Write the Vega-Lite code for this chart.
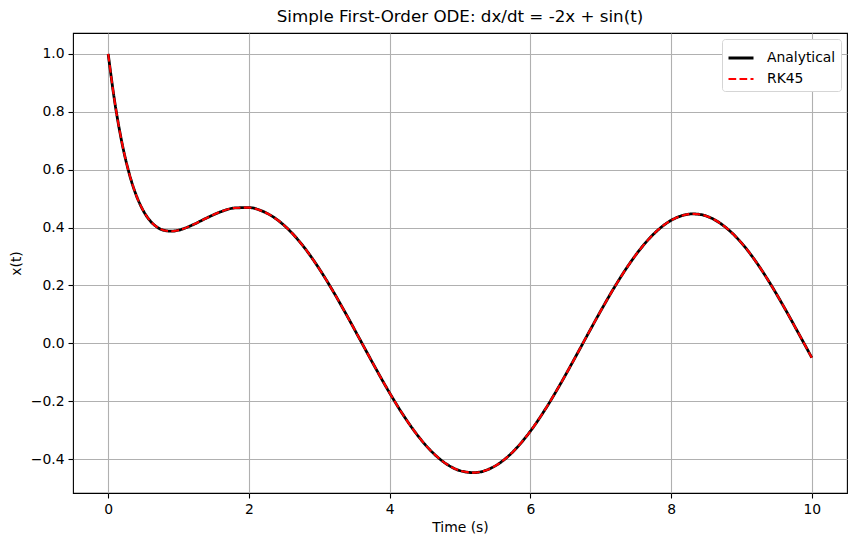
{
  "$schema": "https://vega.github.io/schema/vega-lite/v6.json",
  "width": 774,
  "height": 460,
  "autosize": {"type": "none"},
  "padding": {"left": 73, "top": 33, "right": 10, "bottom": 54},
  "background": "white",
  "title": {"text": "Simple First-Order ODE: dx/dt = -2x + sin(t)", "fontSize": 16.7, "fontWeight": "normal", "font": "DejaVu Sans", "color": "black", "offset": 7},
  "config": {
    "font": "DejaVu Sans",
    "view": {"stroke": "black", "strokeWidth": 1.1},
    "axis": {
      "domain": false,
      "grid": true,
      "gridColor": "#b0b0b0",
      "gridWidth": 1.1,
      "gridOpacity": 1,
      "tickColor": "black",
      "tickSize": 5,
      "tickWidth": 1.1,
      "labelFontSize": 13.9,
      "labelColor": "black",
      "labelPadding": 4,
      "titleFontSize": 13.9,
      "titleFontWeight": "normal",
      "titleColor": "black"
    },
    "legend": {
      "orient": "top-right",
      "offset": 6,
      "title": null,
      "symbolType": "stroke",
      "symbolSize": 625,
      "labelFontSize": 13.9,
      "labelColor": "black",
      "fillColor": "white",
      "strokeColor": "#d5d5d5",
      "cornerRadius": 3,
      "padding": 5,
      "rowPadding": -4,
      "labelOffset": 12
    }
  },
  "data": {"values": [
    {"t": 0.0, "Analytical": 1.0, "RK45": 1.0},
    {"t": 0.1, "Analytical": 0.82341, "RK45": 0.82341},
    {"t": 0.2, "Analytical": 0.68784, "RK45": 0.68784},
    {"t": 0.3, "Analytical": 0.58571, "RK45": 0.58571},
    {"t": 0.4, "Analytical": 0.51076, "RK45": 0.51076},
    {"t": 0.5, "Analytical": 0.45771, "RK45": 0.45771},
    {"t": 0.6, "Analytical": 0.42222, "RK45": 0.42222},
    {"t": 0.7, "Analytical": 0.40064, "RK45": 0.40064},
    {"t": 0.8, "Analytical": 0.38988, "RK45": 0.38988},
    {"t": 0.9, "Analytical": 0.38737, "RK45": 0.38737},
    {"t": 1.0, "Analytical": 0.39094, "RK45": 0.39094},
    {"t": 1.2, "Analytical": 0.40921, "RK45": 0.40921},
    {"t": 1.4, "Analytical": 0.43316, "RK45": 0.43316},
    {"t": 1.6, "Analytical": 0.45458, "RK45": 0.45458},
    {"t": 1.8, "Analytical": 0.46776, "RK45": 0.46776},
    {"t": 2.0, "Analytical": 0.46893, "RK45": 0.46893},
    {"t": 2.2, "Analytical": 0.45584, "RK45": 0.45584},
    {"t": 2.4, "Analytical": 0.42754, "RK45": 0.42754},
    {"t": 2.6, "Analytical": 0.38420, "RK45": 0.38420},
    {"t": 2.8, "Analytical": 0.32688, "RK45": 0.32688},
    {"t": 3.0, "Analytical": 0.25742, "RK45": 0.25742},
    {"t": 3.2, "Analytical": 0.17830, "RK45": 0.17830},
    {"t": 3.4, "Analytical": 0.09248, "RK45": 0.09248},
    {"t": 3.6, "Analytical": 0.00324, "RK45": 0.00324},
    {"t": 3.8, "Analytical": -0.08595, "RK45": -0.08595},
    {"t": 4.0, "Analytical": -0.17159, "RK45": -0.17159},
    {"t": 4.2, "Analytical": -0.25031, "RK45": -0.25031},
    {"t": 4.4, "Analytical": -0.31899, "RK45": -0.31899},
    {"t": 4.6, "Analytical": -0.37493, "RK45": -0.37493},
    {"t": 4.8, "Analytical": -0.41588, "RK45": -0.41588},
    {"t": 5.0, "Analytical": -0.44025, "RK45": -0.44025},
    {"t": 5.2, "Analytical": -0.44704, "RK45": -0.44704},
    {"t": 5.4, "Analytical": -0.43602, "RK45": -0.43602},
    {"t": 5.6, "Analytical": -0.40761, "RK45": -0.40761},
    {"t": 5.8, "Analytical": -0.36294, "RK45": -0.36294},
    {"t": 6.0, "Analytical": -0.30380, "RK45": -0.30380},
    {"t": 6.2, "Analytical": -0.23255, "RK45": -0.23255},
    {"t": 6.4, "Analytical": -0.15202, "RK45": -0.15202},
    {"t": 6.6, "Analytical": -0.06543, "RK45": -0.06543},
    {"t": 6.8, "Analytical": 0.02376, "RK45": 0.02376},
    {"t": 7.0, "Analytical": 0.11202, "RK45": 0.11202},
    {"t": 7.2, "Analytical": 0.19580, "RK45": 0.19580},
    {"t": 7.4, "Analytical": 0.27177, "RK45": 0.27177},
    {"t": 7.6, "Analytical": 0.33692, "RK45": 0.33692},
    {"t": 7.8, "Analytical": 0.38863, "RK45": 0.38863},
    {"t": 8.0, "Analytical": 0.42484, "RK45": 0.42484},
    {"t": 8.2, "Analytical": 0.44412, "RK45": 0.44412},
    {"t": 8.3, "Analytical": 0.44714, "RK45": 0.44714},
    {"t": 8.4, "Analytical": 0.44570, "RK45": 0.44570},
    {"t": 8.6, "Analytical": 0.42928, "RK45": 0.42928},
    {"t": 8.8, "Analytical": 0.39573, "RK45": 0.39573},
    {"t": 9.0, "Analytical": 0.34708, "RK45": 0.34708},
    {"t": 9.2, "Analytical": 0.28413, "RK45": 0.28413},
    {"t": 9.4, "Analytical": 0.20985, "RK45": 0.20985},
    {"t": 9.6, "Analytical": 0.12721, "RK45": 0.12721},
    {"t": 9.8, "Analytical": 0.03950, "RK45": 0.03950},
    {"t": 10.0, "Analytical": -0.04980, "RK45": -0.04980}
  ]},
  "transform": [{"fold": ["Analytical", "RK45"], "as": ["series", "x"]}],
  "encoding": {
    "x": {"field": "t", "type": "quantitative", "title": "Time (s)",
      "scale": {"domain": [-0.5, 10.5], "nice": false, "zero": false},
      "axis": {"values": [0, 2, 4, 6, 8, 10], "format": "d", "titlePadding": 5}},
    "y": {"field": "x", "type": "quantitative", "title": "x(t)",
      "scale": {"domain": [-0.5174, 1.0724], "nice": false, "zero": false},
      "axis": {"values": [-0.4, -0.2, 0, 0.2, 0.4, 0.6, 0.8, 1.0], "format": ".1f", "titlePadding": 7}},
    "color": {"field": "series", "type": "nominal", "scale": {"domain": ["Analytical", "RK45"], "range": ["black", "red"]}, "legend": {"title": null}},
    "strokeDash": {"field": "series", "type": "nominal", "scale": {"domain": ["Analytical", "RK45"], "range": [[1, 0], [7.7, 3.3]]}, "legend": {"title": null}},
    "strokeWidth": {"field": "series", "type": "nominal", "scale": {"domain": ["Analytical", "RK45"], "range": [2.8, 2.1]}, "legend": {"title": null}}
  },
  "layer": [
    {"transform": [{"filter": "datum.series == 'Analytical'"}], "mark": {"type": "line", "interpolate": "monotone"}},
    {"transform": [{"filter": "datum.series == 'RK45'"}], "mark": {"type": "line", "interpolate": "monotone"}}
  ]
}
